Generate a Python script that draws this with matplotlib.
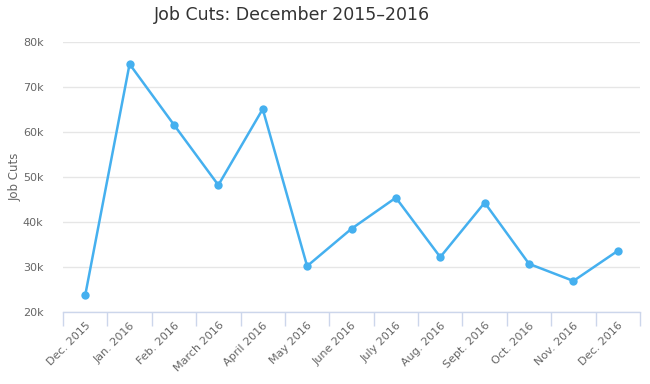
import matplotlib
matplotlib.use("Agg")
import matplotlib.pyplot as plt
from matplotlib.ticker import FuncFormatter, FixedLocator

categories = ["Dec. 2015", "Jan. 2016", "Feb. 2016", "March 2016", "April 2016",
              "May 2016", "June 2016", "July 2016", "Aug. 2016", "Sept. 2016",
              "Oct. 2016", "Nov. 2016", "Dec. 2016"]
job_cuts = [23700, 75100, 61600, 48200, 65100, 30200, 38500, 45400,
            32200, 44300, 30700, 26900, 33600]
y_ticks = [20000, 30000, 40000, 50000, 60000, 70000, 80000]

plt.rcParams['font.family'] = ['DejaVu Sans']

fig = plt.figure(figsize=(6.5, 3.84), dpi=100)
ax_left, ax_w = 63/650, (640-63)/650
ax = fig.add_axes([ax_left, 1 - 312/384, ax_w, (312-42)/384])

x = list(range(len(categories)))
ax.plot(x, job_cuts, color="#45b0ef", linewidth=1.8, marker="o", markersize=6,
        markeredgewidth=0, zorder=3, clip_on=False)

ax.set_xlim(-0.5, len(categories) - 0.5)
ax.set_ylim(20000, 80000)
ax.set_yticks(y_ticks)
ax.yaxis.set_major_formatter(FuncFormatter(lambda v, p: f"{int(v/1000)}k"))
ax.grid(axis="y", color="#e6e6e6", linewidth=1)
ax.set_axisbelow(True)

ax.set_xticks(x)
ax.set_xticklabels(categories, rotation=45, ha="right", rotation_mode="anchor",
                   fontsize=8, color="#666666")
ax.tick_params(axis="x", which="major", length=0, pad=6)
ax.xaxis.set_minor_locator(FixedLocator([i - 0.5 for i in range(len(categories) + 1)]))
ax.tick_params(axis="x", which="minor", length=10, color="#ccd6eb", width=1)

ax.tick_params(axis="y", length=0, labelsize=8, labelcolor="#666666", pad=14)

for s in ["top", "right", "left"]:
    ax.spines[s].set_visible(False)
ax.spines["bottom"].set_color("#ccd6eb")
ax.spines["bottom"].set_linewidth(1)

ax.set_ylabel("Job Cuts", fontsize=8.5, color="#666666")
ax.yaxis.set_label_coords((22 - 63) / 577, 0.5)
fig.text(292/650, 1 - 15/384, "Job Cuts: December 2015\u20132016", ha="center",
         va="center", fontsize=12.5, color="#333333")

fig.savefig("out.png", dpi=100, facecolor="white")
